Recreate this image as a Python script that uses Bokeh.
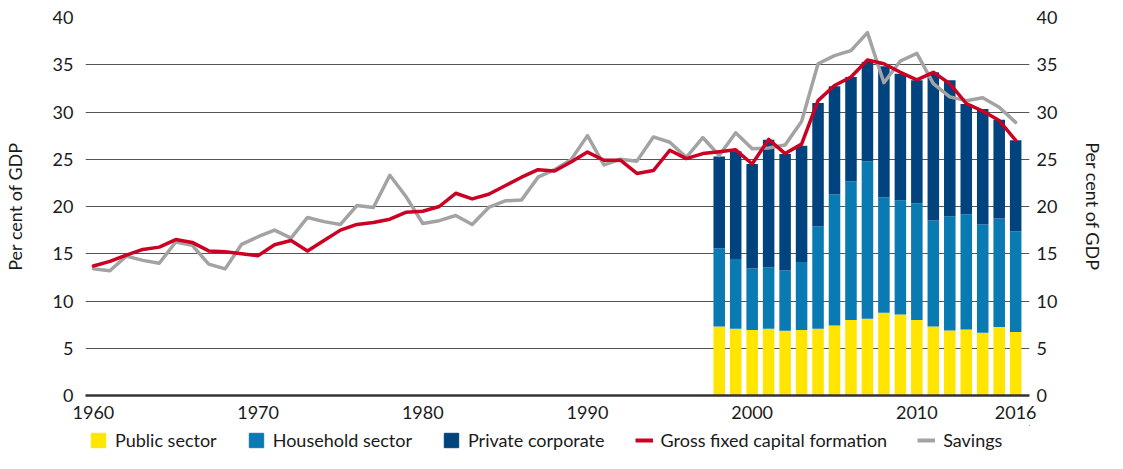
from bokeh.plotting import figure
from bokeh.layouts import column
from bokeh.models import (Range1d, LinearAxis, FixedTicker, Legend, LegendItem,
                          ColumnDataSource)
from bokeh.embed import file_html
from bokeh.resources import INLINE

# ---- data -------------------------------------------------------------
line_years = list(range(1960, 2017))
gfcf = [13.7, 14.2, 14.86, 15.46, 15.7, 16.5, 16.2, 15.3, 15.2, 15.0, 14.8,
        15.95, 16.4, 15.3, 16.4, 17.5, 18.1, 18.3, 18.66, 19.4, 19.5,
        20.0, 21.4, 20.8, 21.3, 22.2, 23.1, 23.9, 23.75, 24.7, 25.76,
        24.9, 24.9, 23.5, 23.8, 25.95, 25.07, 25.6, 25.8, 26.0, 24.5,
        27.1, 25.6, 26.6, 31.2, 32.8, 33.7, 35.5, 35.1, 34.2, 33.4,
        34.2, 33.0, 30.9, 30.1, 29.1, 27.0]
savings = [13.4, 13.2, 14.75, 14.3, 14.0, 16.24, 15.9, 13.9, 13.4, 16.0, 16.8,
           17.5, 16.65, 18.84, 18.4, 18.1, 20.1, 19.9, 23.3, 21.0, 18.2,
           18.5, 19.05, 18.1, 19.9, 20.6, 20.7, 23.1, 23.9, 24.95, 27.5,
           24.4, 25.0, 24.8, 27.36, 26.8, 25.2, 27.3, 25.4, 27.8, 26.1,
           26.2, 26.5, 29.0, 35.1, 35.96, 36.5, 38.4, 33.1, 35.4, 36.2,
           33.0, 31.6, 31.2, 31.5, 30.5, 28.9]

bar_years = [1998, 1999, 2000, 2001, 2002, 2003, 2004, 2005, 2006, 2007,
             2008, 2009, 2010, 2011, 2012, 2013, 2014, 2015, 2016]
public = [7.3, 7.06, 6.92, 7.06, 6.85, 6.92, 7.06, 7.41, 7.98, 8.12,
          8.75, 8.58, 7.98, 7.3, 6.88, 6.99, 6.64, 7.24, 6.71]
household = [8.27, 7.38, 6.53, 6.49, 6.39, 7.2, 10.84, 13.87, 14.68, 16.66,
             12.22, 12.07, 12.35, 11.23, 12.08, 12.18, 11.46, 11.5, 10.66]
private = [9.73, 11.4, 11.05, 13.52, 12.32, 12.32, 13.06, 11.44, 11.05, 10.52,
           13.87, 13.41, 13.03, 15.67, 14.4, 11.68, 12.22, 10.45, 9.63]

x_ticks = [1960, 1970, 1980, 1990, 2000, 2010, 2016]
y_ticks = [0, 5, 10, 15, 20, 25, 30, 35, 40]
labels = ["Public sector", "Household sector", "Private corporate",
          "Gross fixed capital formation", "Savings"]

C_PUB = "#FFE500"
C_HH = "#0A7AB3"
C_PRIV = "#00437E"
C_RED = "#CC0022"
C_GRAY = "#A3A3A3"
FONT = "Lato"
TXT = "#1a1a1a"
FS = "18px"

# ---- main figure ------------------------------------------------------
p = figure(width=1107, height=425,
           x_range=Range1d(1959.52, 2016.84), y_range=Range1d(0, 40),
           output_backend="svg", toolbar_location=None,
           min_border_left=81, min_border_right=74,
           min_border_top=17, min_border_bottom=30)
p.outline_line_color = None
p.background_fill_color = "white"
p.border_fill_color = "white"

src = ColumnDataSource(dict(year=bar_years, public=public,
                            household=household, private=private))
p.vbar_stack(["public", "household", "private"], x="year", width=0.7,
             color=[C_PUB, C_HH, C_PRIV], line_color=None, source=src)

p.line(line_years, savings, line_color=C_GRAY, line_width=3.5,
       line_join="round", line_cap="round")
p.line(line_years, gfcf, line_color=C_RED, line_width=3.5,
       line_join="round", line_cap="round")

xa = p.xaxis[0]
xa.ticker = FixedTicker(ticks=x_ticks)
xa.major_tick_line_color = None
xa.major_tick_out = 0
xa.major_tick_in = 0
xa.minor_tick_line_color = None
xa.axis_line_color = "#333333"
xa.axis_line_width = 2.5
xa.major_label_text_font = FONT
xa.major_label_text_font_size = FS
xa.major_label_text_color = TXT
xa.major_label_standoff = 10

ya = p.yaxis[0]
ya.ticker = FixedTicker(ticks=y_ticks)
ya.axis_line_color = None
ya.major_tick_line_color = None
ya.major_tick_out = 0
ya.major_tick_in = 0
ya.minor_tick_line_color = None
ya.major_label_text_font = FONT
ya.major_label_text_font_size = FS
ya.major_label_text_color = TXT
ya.major_label_standoff = 12
ya.axis_label = "Per cent of GDP"
ya.axis_label_text_font = FONT
ya.axis_label_text_font_size = FS
ya.axis_label_text_font_style = "normal"
ya.axis_label_text_color = TXT
ya.axis_label_standoff = 24

ra = LinearAxis(ticker=FixedTicker(ticks=y_ticks))
ra.axis_line_color = None
ra.major_tick_line_color = None
ra.major_tick_out = 0
ra.major_tick_in = 0
ra.minor_tick_line_color = None
ra.major_label_text_font = FONT
ra.major_label_text_font_size = FS
ra.major_label_text_color = TXT
ra.major_label_standoff = 7
ra.axis_label = "Per cent of GDP"
ra.axis_label_text_font = FONT
ra.axis_label_text_font_size = FS
ra.axis_label_text_font_style = "normal"
ra.axis_label_text_color = TXT
ra.axis_label_standoff = 22
p.add_layout(ra, "right")

p.xgrid.visible = False
p.ygrid.ticker = FixedTicker(ticks=y_ticks)
p.ygrid.grid_line_color = "#555555"
p.ygrid.grid_line_width = 1

# ---- legend strip -----------------------------------------------------
lg = figure(width=1107, height=28, x_range=Range1d(0, 1), y_range=Range1d(0, 1),
            output_backend="svg", toolbar_location=None,
            x_axis_type=None, y_axis_type=None,
            min_border_left=81, min_border_right=74,
            min_border_top=0, min_border_bottom=0)
lg.outline_line_color = None
lg.xgrid.visible = False
lg.ygrid.visible = False
lg.background_fill_color = "white"
lg.border_fill_color = "white"

# legend keys: one point each, placed outside the visible range
k_pub = lg.vbar(x=[5], top=[5], bottom=[4], width=0.1, color=C_PUB)
k_hh = lg.vbar(x=[5], top=[5], bottom=[4], width=0.1, color=C_HH)
k_priv = lg.vbar(x=[5], top=[5], bottom=[4], width=0.1, color=C_PRIV)
k_red = lg.line(x=[5, 6], y=[5, 5], line_color=C_RED, line_width=4)
k_gray = lg.line(x=[5, 6], y=[5, 5], line_color=C_GRAY, line_width=4)

legend = Legend(items=[
    LegendItem(label=labels[0], renderers=[k_pub]),
    LegendItem(label=labels[1], renderers=[k_hh]),
    LegendItem(label=labels[2], renderers=[k_priv]),
    LegendItem(label=labels[3], renderers=[k_red]),
    LegendItem(label=labels[4], renderers=[k_gray]),
], orientation="horizontal", location="top_left")
legend.border_line_color = None
legend.background_fill_alpha = 0
legend.padding = 0
legend.margin = 4
legend.spacing = 30
legend.glyph_width = 18
legend.glyph_height = 18
legend.label_standoff = 8
legend.label_text_font = FONT
legend.label_text_font_size = FS
legend.label_text_color = TXT
lg.add_layout(legend)

open("out.html", "w").write(file_html(column(p, lg, spacing=0), INLINE))
